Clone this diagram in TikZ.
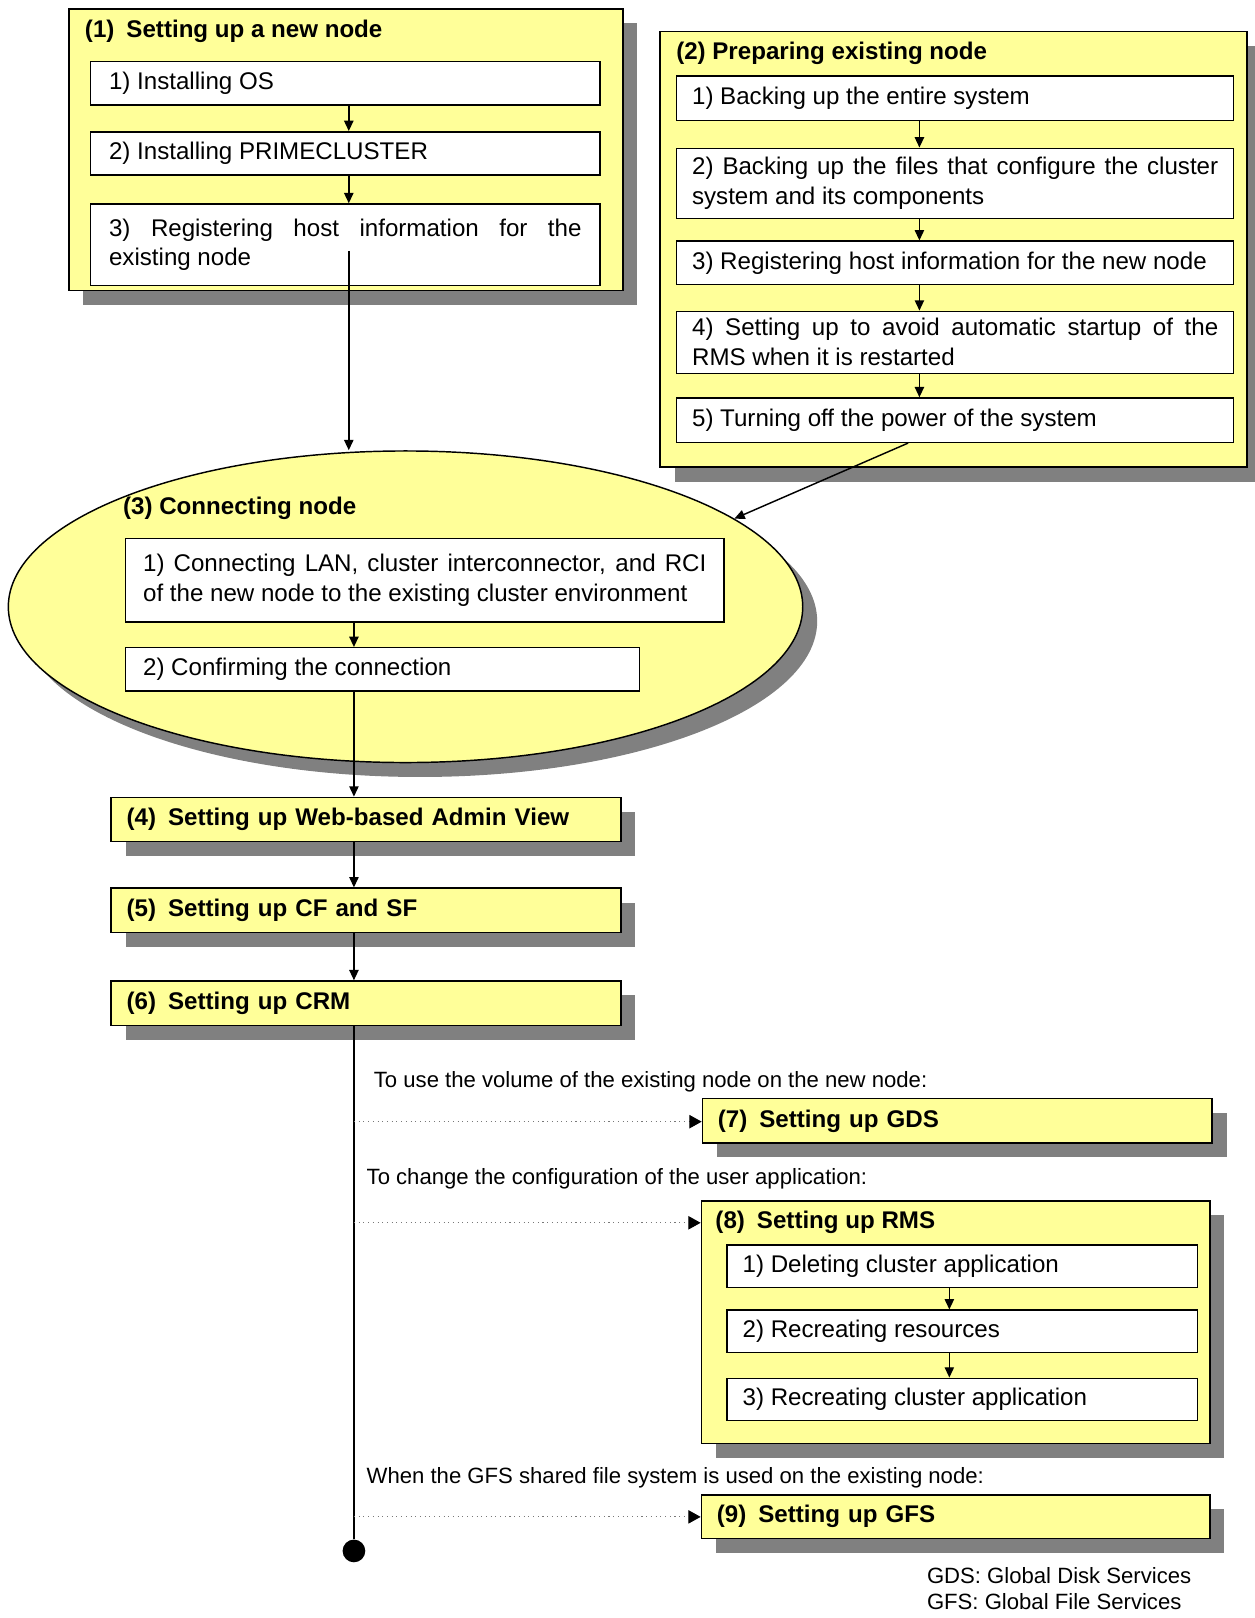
\documentclass[tikz,border=0pt]{standalone}
\usepackage{fontspec}
\setmainfont{Liberation Sans}
\usepackage{tikz}
\usetikzlibrary{shapes,arrows.meta,positioning,shadows}
\definecolor{boxyellow}{RGB}{255,255,153}
\definecolor{shadowgray}{RGB}{128,128,128}
\definecolor{dotgray}{RGB}{120,120,120}
\newcommand{\stepfont}{\fontsize{13.3pt}{16.5pt}\selectfont}
\newcommand{\notefont}{\fontsize{12.2pt}{14pt}\selectfont}
\hyphenpenalty=10000
\exhyphenpenalty=10000
\tolerance=9999
\hbadness=10000
\tikzstyle{shaded} = [draw, fill=boxyellow, line width=0.8pt, inner sep=0, drop shadow={shadow xshift=0.28cm, shadow yshift=-0.28cm, fill=shadowgray, opacity=1}]
\tikzstyle{phase} = [shaded, anchor=north west]
\tikzstyle{phasebar} = [phase, inner xsep=0.3cm, text width=9.28cm, minimum height=0.86cm, align=left, font=\stepfont\bfseries]
\tikzstyle{title} = [anchor=west, inner sep=0, font=\stepfont\bfseries]
\tikzstyle{task} = [draw, fill=white, line width=0.8pt, anchor=north west, inner xsep=0.3cm, inner ysep=0, align=justify, font=\stepfont]
\tikzstyle{note} = [anchor=west, inner sep=0, font=\notefont]
\tikzstyle{arrow} = [line width=0.8pt, -{Triangle[length=0.2cm,width=0.18cm]}]
\tikzstyle{optarrow} = [dotted, dotgray, line width=0.6pt, -{Triangle[length=0.24cm,width=0.26cm,color=black]}]

\begin{document}
\begin{tikzpicture}[x=0.02cm, y=-0.02cm]
\useasboundingbox (0,0) rectangle (1216,1568);

% (1) Setting up a new node
\node[phase, minimum width=10.74cm, minimum height=5.46cm] (box1) at (66,8) {};
\node[title] (t1) at (82,30) {(1)\enspace Setting up a new node};
\node[task, inner xsep=0.36cm, text width=9.16cm, minimum height=0.84cm] (s11) at (87,59) {1) Installing OS};
\node[task, inner xsep=0.36cm, text width=9.16cm, minimum height=0.84cm] (s12) at (87,127) {2) Installing PRIMECLUSTER};
\node[task, inner xsep=0.36cm, text width=9.16cm, minimum height=1.58cm] (s13) at (87,197) {3) Registering host information for the existing node};

% (2) Preparing existing node
\node[phase, minimum width=11.38cm, minimum height=8.44cm] (box2) at (639,30) {};
\node[title] (t2) at (655,52) {(2) Preparing existing node};
\node[task, text width=10.2cm, minimum height=0.86cm] (s21) at (655,73) {1) Backing up the entire system};
\node[task, text width=10.2cm, minimum height=1.36cm] (s22) at (655,143) {2) Backing up the files that configure the cluster system and its components};
\node[task, text width=10.2cm, minimum height=0.84cm] (s23) at (655,233) {3) Registering host information for the new node};
\node[task, text width=10.2cm, minimum height=1.2cm] (s24) at (655,301) {4) Setting up to avoid automatic startup of the RMS when it is restarted};
\node[task, text width=10.2cm, minimum height=0.86cm] (s25) at (655,385) {5) Turning off the power of the system};

% (3) Connecting node
\node[shaded, ellipse, minimum width=15.4cm, minimum height=6.04cm] (ell3) at (393,588) {};
\node[title] (t3) at (119,493) {(3) Connecting node};
\node[task, inner xsep=0.34cm, text width=10.92cm, minimum height=1.62cm] (s31) at (121,521) {1) Connecting LAN, cluster interconnector, and RCI of the new node to the existing cluster environment};
\node[task, inner xsep=0.34cm, text width=9.28cm, minimum height=0.84cm] (s32) at (121,627) {2) Confirming the connection};

% (4) - (6)
\node[phasebar] (box4) at (107,772) {(4)\enspace Setting up Web-based Admin View};
\node[phasebar] (box5) at (107,860) {(5)\enspace Setting up CF and SF};
\node[phasebar] (box6) at (107,950) {(6)\enspace Setting up CRM};

% optional steps
\node[note] (n7) at (362,1048) {To use the volume of the existing node on the new node:};
\node[phasebar] (box7) at (680,1064) {(7)\enspace Setting up GDS};

\node[note] (n8) at (355,1142) {To change the configuration of the user application:};
\node[phase, minimum width=9.86cm, minimum height=4.7cm] (box8) at (679,1163) {};
\node[title] (t8) at (693,1185) {(8)\enspace Setting up RMS};
\node[task, text width=8.52cm, minimum height=0.82cm] (s81) at (704,1206) {1) Deleting cluster application};
\node[task, text width=8.52cm, minimum height=0.82cm] (s82) at (704,1269) {2) Recreating resources};
\node[task, text width=8.52cm, minimum height=0.82cm] (s83) at (704,1335) {3) Recreating cluster application};

\node[note] (n9) at (355,1432) {When the GFS shared file system is used on the existing node:};
\node[phasebar, text width=9.26cm, minimum height=0.84cm] (box9) at (679,1448) {(9)\enspace Setting up GFS};

\node[circle, fill=black, minimum size=0.44cm, inner sep=0] (stop) at (343,1503) {};

% Footnote
\node[note] (gds) at (898,1527) {GDS: Global Disk Services};
\node[note] (gfs) at (898,1552) {GFS: Global File Services};

% Arrow columns
\coordinate (c1) at (338,0);
\coordinate (c2) at (891,0);
\coordinate (c3) at (343,0);
\coordinate (c8) at (920,0);
\coordinate (c25) at (880,0);
\coordinate (a1) at (338,243);

\foreach \a/\b in {s11/s12, s12/s13}
  \draw[arrow] (\a.south -| c1) -- (\b.north -| c1);
\foreach \a/\b in {s21/s22, s22/s23, s23/s24, s24/s25}
  \draw[arrow] (\a.south -| c2) -- (\b.north -| c2);
\foreach \a/\b in {s31/s32, s32/box4, box4/box5, box5/box6}
  \draw[arrow] (\a.south -| c3) -- (\b.north -| c3);
\foreach \a/\b in {s81/s82, s82/s83}
  \draw[arrow] (\a.south -| c8) -- (\b.north -| c8);

\draw[arrow] (a1) -- (a1 |- ell3.north);
\draw[arrow] (s25.south -| c25) -- (ell3.15);

% Main line and branches
\draw[line width=0.8pt] (box6.south -| c3) -- (stop);
\coordinate (b7) at (343,1087);
\coordinate (b8) at (343,1185);
\coordinate (b9) at (343,1470);
\draw[optarrow] (b7) -- (b7 -| box7.west);
\draw[optarrow] (b8) -- (b8 -| box8.west);
\draw[optarrow] (b9) -- (b9 -| box9.west);

\end{tikzpicture}
\end{document}
